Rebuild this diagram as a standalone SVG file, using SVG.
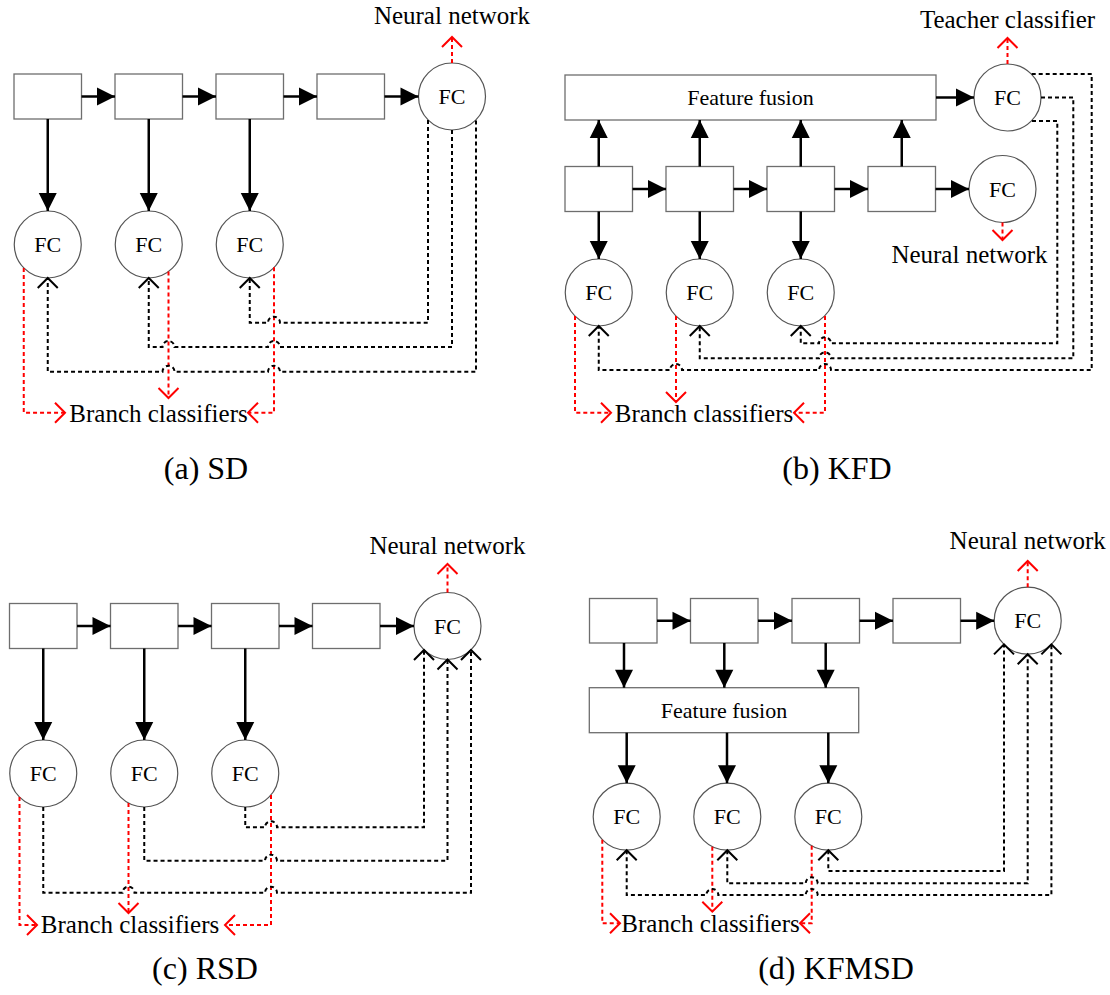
<svg xmlns="http://www.w3.org/2000/svg" width="1110" height="995" viewBox="0 0 1110 995">
<style>
.box{fill:#fff;stroke:#6e6e6e;stroke-width:1.3}
.fc{fill:#fff;stroke:#555;stroke-width:1.2}
text{font-family:"Liberation Serif","Times New Roman",serif;fill:#000}
.t22{font-size:22px;text-anchor:middle}
.t25{font-size:25px;text-anchor:middle}
.cap{font-size:32px;text-anchor:middle}
.sol{fill:none;stroke:#000;stroke-width:2.5;marker-end:url(#tri)}
.dk{fill:none;stroke:#000;stroke-width:2;stroke-dasharray:4 3;marker-end:url(#chk)}
.dks{marker-start:url(#chks)}
.rd{fill:none;stroke:#f00;stroke-width:2;stroke-dasharray:4 3;marker-end:url(#chr)}
</style>
<defs>
<marker id="tri" markerUnits="userSpaceOnUse" viewBox="-19 -10 20 20" refX="0" refY="0" markerWidth="20" markerHeight="20" orient="auto"><path d="M-18,-9 L0,0 L-18,9 Z" fill="#000"/></marker>
<marker id="chk" markerUnits="userSpaceOnUse" viewBox="-12 -12 15 24" refX="0" refY="0" markerWidth="15" markerHeight="24" orient="auto"><path d="M-10,-10 L0,0 L-10,10" fill="none" stroke="#000" stroke-width="2"/></marker>
<marker id="chks" markerUnits="userSpaceOnUse" viewBox="-12 -12 15 24" refX="0" refY="0" markerWidth="15" markerHeight="24" orient="auto-start-reverse"><path d="M-10,-10 L0,0 L-10,10" fill="none" stroke="#000" stroke-width="2"/></marker>
<marker id="chr" markerUnits="userSpaceOnUse" viewBox="-12 -12 15 24" refX="0" refY="0" markerWidth="15" markerHeight="24" orient="auto"><path d="M-10,-10 L0,0 L-10,10" fill="none" stroke="#f00" stroke-width="2"/></marker>
</defs>

<!-- ===== (a) SD ===== -->
<g id="a-box1"><rect class="box" x="14" y="74" width="67.5" height="45"/></g>
<g id="a-box2"><rect class="box" x="115" y="74" width="67.5" height="45"/></g>
<g id="a-box3"><rect class="box" x="216" y="74" width="67.5" height="45"/></g>
<g id="a-box4"><rect class="box" x="317" y="74" width="67.5" height="45"/></g>
<g id="a-fc-main"><circle class="fc" cx="452" cy="96.5" r="33.5"/><text class="t22" x="452" y="104">FC</text></g>
<g id="a-fc1"><circle class="fc" cx="47.75" cy="244.5" r="33.5"/><text class="t22" x="47.75" y="252">FC</text></g>
<g id="a-fc2"><circle class="fc" cx="148.75" cy="244.5" r="33.5"/><text class="t22" x="148.75" y="252">FC</text></g>
<g id="a-fc3"><circle class="fc" cx="249.75" cy="244.5" r="33.5"/><text class="t22" x="249.75" y="252">FC</text></g>
<g id="a-out"><text class="t25" x="452" y="24">Neural network</text></g>
<g id="a-branch"><text class="t25" x="158.5" y="421.5">Branch classifiers</text></g>
<g id="a-caption"><text class="cap" x="206" y="479">(a) SD</text></g>
<g id="a-connectors">
<path class="sol" d="M81.5,96.5 H115"/>
<path class="sol" d="M182.5,96.5 H216"/>
<path class="sol" d="M283.5,96.5 H317"/>
<path class="sol" d="M384.5,96.5 H418.5"/>
<path class="sol" d="M47.75,119 V211"/>
<path class="sol" d="M148.75,119 V211"/>
<path class="sol" d="M249.75,119 V211"/>
<path class="rd" d="M452,63 V37"/>
<path class="rd" d="M23.75,268 V412.7 H65"/>
<path class="rd" d="M168.5,271.5 V398"/>
<path class="rd" d="M274,267.3 V412.7 H248"/>
<path class="dk" d="M428,120 V322.7 H280 A6,6 0 0 0 268,322.7 H249.75 V278"/>
<path class="dk" d="M452,130 V347 H280 A6,6 0 0 0 268,347 H174.5 A6,6 0 0 0 162.5,347 H148.75 V278"/>
<path class="dk" d="M476,120.4 V371.7 H280 A6,6 0 0 0 268,371.7 H174.5 A6,6 0 0 0 162.5,371.7 H47.75 V278"/>
</g>

<!-- ===== (b) KFD ===== -->
<g id="b-fusion"><rect class="box" x="565" y="75" width="371" height="45"/><text class="t22" x="750.5" y="105">Feature fusion</text></g>
<g id="b-fc-teacher"><circle class="fc" cx="1007.5" cy="97.5" r="33.5"/><text class="t22" x="1007.5" y="105">FC</text></g>
<g id="b-box1"><rect class="box" x="565" y="166.5" width="67.5" height="45"/></g>
<g id="b-box2"><rect class="box" x="666" y="166.5" width="67.5" height="45"/></g>
<g id="b-box3"><rect class="box" x="767" y="166.5" width="67.5" height="45"/></g>
<g id="b-box4"><rect class="box" x="868" y="166.5" width="67.5" height="45"/></g>
<g id="b-fc-main"><circle class="fc" cx="1002.5" cy="189" r="33.5"/><text class="t22" x="1002.5" y="196.5">FC</text></g>
<g id="b-fc1"><circle class="fc" cx="598.75" cy="292.5" r="33.5"/><text class="t22" x="598.75" y="300">FC</text></g>
<g id="b-fc2"><circle class="fc" cx="699.75" cy="292.5" r="33.5"/><text class="t22" x="699.75" y="300">FC</text></g>
<g id="b-fc3"><circle class="fc" cx="800.75" cy="292.5" r="33.5"/><text class="t22" x="800.75" y="300">FC</text></g>
<g id="b-teacher"><text class="t25" x="1007.5" y="28">Teacher classifier</text></g>
<g id="b-out"><text class="t25" x="969.5" y="263">Neural network</text></g>
<g id="b-branch"><text class="t25" x="704" y="421.5">Branch classifiers</text></g>
<g id="b-caption"><text class="cap" x="837" y="479">(b) KFD</text></g>
<g id="b-connectors">
<path class="sol" d="M936,97.5 H974"/>
<path class="sol" d="M632.5,189 H666"/>
<path class="sol" d="M733.5,189 H767"/>
<path class="sol" d="M834.5,189 H868"/>
<path class="sol" d="M935.5,189 H969"/>
<path class="sol" d="M598.75,166.5 V120"/>
<path class="sol" d="M699.75,166.5 V120"/>
<path class="sol" d="M800.75,166.5 V120"/>
<path class="sol" d="M901.75,166.5 V120"/>
<path class="sol" d="M598.75,211.5 V259"/>
<path class="sol" d="M699.75,211.5 V259"/>
<path class="sol" d="M800.75,211.5 V259"/>
<path class="rd" d="M1007.5,64 V38"/>
<path class="rd" d="M1002.5,222.5 V240"/>
<path class="rd" d="M575,316 V412.7 H611"/>
<path class="rd" d="M676,316 V402"/>
<path class="rd" d="M825,316 V412.7 H794"/>
<path class="dk" d="M1031.7,74 H1091.7 V370 H831 A6,6 0 0 0 819,370 H682 A6,6 0 0 0 670,370 H598.75 V326"/>
<path class="dk" d="M1041,97.5 H1073.3 V358.3 H831 A6,6 0 0 0 819,358.3 H699.75 V326"/>
<path class="dk" d="M1032,121 H1057.3 V343.3 H831 A6,6 0 0 0 819,343.3 H800.75 V326"/>
</g>

<!-- ===== (c) RSD ===== -->
<g id="c-box1"><rect class="box" x="9.5" y="603.5" width="67.5" height="45"/></g>
<g id="c-box2"><rect class="box" x="110.5" y="603.5" width="67.5" height="45"/></g>
<g id="c-box3"><rect class="box" x="211.5" y="603.5" width="67.5" height="45"/></g>
<g id="c-box4"><rect class="box" x="312.5" y="603.5" width="67.5" height="45"/></g>
<g id="c-fc-main"><circle class="fc" cx="447.5" cy="626" r="33.5"/><text class="t22" x="447.5" y="633.5">FC</text></g>
<g id="c-fc1"><circle class="fc" cx="43.25" cy="773.5" r="33.5"/><text class="t22" x="43.25" y="781">FC</text></g>
<g id="c-fc2"><circle class="fc" cx="144.25" cy="773.5" r="33.5"/><text class="t22" x="144.25" y="781">FC</text></g>
<g id="c-fc3"><circle class="fc" cx="245.25" cy="773.5" r="33.5"/><text class="t22" x="245.25" y="781">FC</text></g>
<g id="c-out"><text class="t25" x="447.5" y="554">Neural network</text></g>
<g id="c-branch"><text class="t25" x="130" y="933">Branch classifiers</text></g>
<g id="c-caption"><text class="cap" x="205" y="979">(c) RSD</text></g>
<g id="c-connectors">
<path class="sol" d="M77,626 H110.5"/>
<path class="sol" d="M178,626 H211.5"/>
<path class="sol" d="M279,626 H312.5"/>
<path class="sol" d="M380,626 H414"/>
<path class="sol" d="M43.25,648.5 V740"/>
<path class="sol" d="M144.25,648.5 V740"/>
<path class="sol" d="M245.25,648.5 V740"/>
<path class="rd" d="M447.5,592.5 V564"/>
<path class="rd" d="M19.5,797 V925 H37"/>
<path class="rd" d="M128.5,803 V913"/>
<path class="rd" d="M271,795 V925 H225"/>
<path class="dk" d="M245.25,807 V827.3 H265 A6,6 0 0 1 277,827.3 H424 V650"/>
<path class="dk" d="M144.25,807 V860.7 H265 A6,6 0 0 1 277,860.7 H447.5 V659.5"/>
<path class="dk" d="M43.25,807 V892.7 H122.5 A6,6 0 0 1 134.5,892.7 H265 A6,6 0 0 1 277,892.7 H471 V650"/>
</g>

<!-- ===== (d) KFMSD ===== -->
<g id="d-box1"><rect class="box" x="589.5" y="598.5" width="67.5" height="44.5"/></g>
<g id="d-box2"><rect class="box" x="690.5" y="598.5" width="67.5" height="44.5"/></g>
<g id="d-box3"><rect class="box" x="792" y="598.5" width="67.5" height="44.5"/></g>
<g id="d-box4"><rect class="box" x="893" y="598.5" width="67.5" height="44.5"/></g>
<g id="d-fc-main"><circle class="fc" cx="1027.7" cy="620.7" r="33.5"/><text class="t22" x="1027.7" y="628.2">FC</text></g>
<g id="d-fusion"><rect class="box" x="589.3" y="687.7" width="269.4" height="45"/><text class="t22" x="724" y="718">Feature fusion</text></g>
<g id="d-fc1"><circle class="fc" cx="626.7" cy="816.7" r="33.5"/><text class="t22" x="626.7" y="824.2">FC</text></g>
<g id="d-fc2"><circle class="fc" cx="727.3" cy="816.7" r="33.5"/><text class="t22" x="727.3" y="824.2">FC</text></g>
<g id="d-fc3"><circle class="fc" cx="828.3" cy="816.7" r="33.5"/><text class="t22" x="828.3" y="824.2">FC</text></g>
<g id="d-out"><text class="t25" x="1027.7" y="549">Neural network</text></g>
<g id="d-branch"><text class="t25" x="710.5" y="932">Branch classifiers</text></g>
<g id="d-caption"><text class="cap" x="836" y="979">(d) KFMSD</text></g>
<g id="d-connectors">
<path class="sol" d="M657,620.75 H690.5"/>
<path class="sol" d="M758,620.75 H792"/>
<path class="sol" d="M859.5,620.75 H893"/>
<path class="sol" d="M960.5,620.75 H994.2"/>
<path class="sol" d="M624,643 V687.7"/>
<path class="sol" d="M724.3,643 V687.7"/>
<path class="sol" d="M825.7,643 V687.7"/>
<path class="sol" d="M626.7,732.7 V783.2"/>
<path class="sol" d="M727,732.7 V783.2"/>
<path class="sol" d="M828.3,732.7 V783.2"/>
<path class="rd" d="M1027.7,587.2 V561"/>
<path class="rd" d="M602.3,839.7 V923.3 H620"/>
<path class="rd" d="M712.3,846.7 V911.7"/>
<path class="rd" d="M811.7,845.8 V923.3 H800"/>
<path class="dk dks" d="M828.3,850.2 V871 H1004 V644.4"/>
<path class="dk dks" d="M727.3,850.2 V883.3 H805.7 A6,6 0 0 1 817.7,883.3 H1027.7 V654.2"/>
<path class="dk dks" d="M626.7,850.2 V895 H706.3 A6,6 0 0 1 718.3,895 H805.7 A6,6 0 0 1 817.7,895 H1051.4 V644.4"/>
</g>
</svg>
